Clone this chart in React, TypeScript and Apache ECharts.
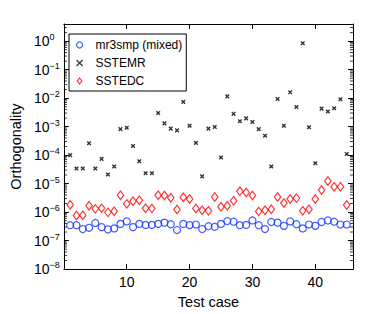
import React, { useEffect, useRef } from 'react';
import * as echarts from 'echarts';

const testCases = [1, 2, 3, 4, 5, 6, 7, 8, 9, 10, 11, 12, 13, 14, 15, 16, 17, 18, 19, 20, 21, 22, 23, 24, 25, 26, 27, 28, 29, 30, 31, 32, 33, 34, 35, 36, 37, 38, 39, 40, 41, 42, 43, 44, 45];

const mr3smpMixed = [3.47e-7, 3.47e-7, 2.54e-7, 2.82e-7, 4.16e-7, 2.97e-7, 2.48e-7, 2.68e-7, 3.85e-7, 4.73e-7, 2.97e-7, 3.85e-7, 3.56e-7, 3.56e-7, 3.85e-7, 4.27e-7, 3.75e-7, 2.35e-7, 3.85e-7, 3.5e-7, 3.66e-7, 2.54e-7, 3.2e-7, 3.05e-7, 3.85e-7, 4.85e-7, 4.6e-7, 3.47e-7, 3.56e-7, 5.1e-7, 3.47e-7, 2.54e-7, 4.5e-7, 4.27e-7, 3.3e-7, 4.73e-7, 3.75e-7, 2.68e-7, 3.66e-7, 3.3e-7, 4.5e-7, 5.1e-7, 4.6e-7, 3.66e-7, 3.66e-7];

const sstemr = [1.0e-4, 3.4e-5, 3.4e-5, 2.6e-4, 3.4e-5, 7.4e-5, 2.1e-5, 4.0e-5, 8.2e-4, 9.1e-4, 2.1e-4, 6.1e-5, 2.3e-5, 2.3e-5, 3.0e-3, 1.3e-3, 8.5e-4, 7.4e-4, 7.4e-3, 1.07e-3, 2.7e-4, 1.8e-5, 8.5e-4, 9.7e-4, 8.3e-5, 1.15e-2, 2.8e-3, 1.55e-3, 1.95e-3, 1.45e-3, 8.2e-4, 4.8e-4, 4.0e-5, 9.3e-3, 1.07e-3, 1.6e-2, 4.9e-3, 0.84, 9.5e-4, 5.2e-5, 4.3e-3, 3.4e-3, 4.4e-3, 9.1e-3, 1.1e-4];

const sstedc = [1.8e-6, 7.6e-7, 7.7e-7, 1.66e-6, 1.3e-6, 1.37e-6, 9.8e-7, 1.08e-6, 3.9e-6, 1.95e-6, 2.4e-6, 2.6e-6, 1.37e-6, 1.35e-6, 3.9e-6, 3.8e-6, 3.2e-6, 1.23e-6, 3.3e-6, 2.9e-6, 1.33e-6, 1.17e-6, 1.11e-6, 3.4e-6, 1.55e-6, 1.68e-6, 2.5e-6, 5.4e-6, 4.9e-6, 3.8e-6, 1.06e-6, 1.17e-6, 1.26e-6, 3.4e-6, 2.1e-6, 2.9e-6, 3.1e-6, 1.11e-6, 1.26e-6, 2.9e-6, 6.0e-6, 1.24e-5, 7.7e-6, 7.7e-6, 1.77e-6];

const referenceLevel = 6e-8;
const xTickLabels = [10, 20, 30, 40];
const yDecades = [-8, -7, -6, -5, -4, -3, -2, -1, 0];
const seriesNames = ['mr3smp (mixed)', 'SSTEMR', 'SSTEDC'];

const X_MIN = 0;
const X_MAX = 46;
const Y_MIN = 1e-8;
const Y_MAX = 4;

const FONT = "'Liberation Sans', Arial, Helvetica, sans-serif";

export default function App() {
  const ref = useRef<HTMLDivElement>(null);

  useEffect(() => {
    const chart = echarts.init(ref.current as HTMLDivElement, null, { renderer: 'svg' });

    const minorTicks: number[][] = [];
    yDecades.forEach((d) => {
      for (let k = 2; k <= 9; k++) {
        const v = k * Math.pow(10, d);
        if (v < Y_MAX) minorTicks.push([X_MIN, v]);
      }
    });

    const yLabel = (v: number) => {
      const e = Math.log10(v);
      const r = Math.round(e);
      if (Math.abs(e - r) > 1e-6) return '';
      const exp = r < 0 ? '\u2212' + String(-r) : String(r);
      return '{b|10}{s|' + exp + '}';
    };

    const axisLineStyle = { color: '#000', width: 1 };

    const option: any = {
      animation: false,
      backgroundColor: '#fff',
      textStyle: { fontFamily: FONT, color: '#000' },
      grid: { left: 51, right: 37, top: 24, bottom: 35, containLabel: false },
      legend: {
        data: seriesNames,
        orient: 'vertical',
        left: 69,
        top: 34,
        itemWidth: 22,
        itemHeight: 6,
        itemGap: 4,
        padding: [4, 4, 3, 7],
        borderColor: '#000',
        borderWidth: 1,
        borderRadius: 0,
        backgroundColor: '#fff',
        itemStyle: { borderWidth: 1.2 },
        textStyle: { fontSize: 12, lineHeight: 14, color: '#000', fontFamily: FONT },
      },
      xAxis: [
        {
          type: 'value',
          position: 'bottom',
          min: X_MIN,
          max: X_MAX,
          interval: 10,
          name: 'Test case',
          nameLocation: 'middle',
          nameGap: 18,
          nameTextStyle: { fontSize: 14.5, color: '#000', fontFamily: FONT },
          axisLine: { show: true, onZero: false, lineStyle: axisLineStyle },
          axisTick: { show: true, inside: true, length: 5, lineStyle: axisLineStyle },
          axisLabel: {
            show: true,
            margin: 6,
            fontSize: 14,
            color: '#000',
            fontFamily: FONT,
            formatter: (v: number) => (xTickLabels.indexOf(v) >= 0 ? String(v) : ''),
          },
          splitLine: { show: false },
        },
        {
          type: 'value',
          position: 'top',
          min: X_MIN,
          max: X_MAX,
          interval: 10,
          axisLine: { show: true, onZero: false, lineStyle: axisLineStyle },
          axisTick: { show: true, inside: true, length: 5, lineStyle: axisLineStyle },
          axisLabel: { show: false },
          splitLine: { show: false },
        },
      ],
      yAxis: [
        {
          type: 'log',
          logBase: 10,
          position: 'left',
          min: Y_MIN,
          max: Y_MAX,
          name: 'Orthogonality',
          nameLocation: 'middle',
          nameGap: 36,
          nameTextStyle: { fontSize: 14.5, color: '#000', fontFamily: FONT },
          axisLine: { show: true, onZero: false, lineStyle: axisLineStyle },
          axisTick: { show: true, inside: true, length: 5, lineStyle: axisLineStyle },
          axisLabel: {
            show: true,
            margin: 30,
            align: 'left',
            color: '#000',
            fontFamily: FONT,
            fontSize: 14,
            formatter: yLabel,
            rich: {
              b: { fontSize: 14, lineHeight: 17, color: '#000', fontFamily: FONT },
              s: { fontSize: 9, verticalAlign: 'top', color: '#000', fontFamily: FONT },
            },
          },
          splitLine: { show: false },
        },
        {
          type: 'log',
          logBase: 10,
          position: 'right',
          min: Y_MIN,
          max: Y_MAX,
          axisLine: { show: true, onZero: false, lineStyle: axisLineStyle },
          axisTick: { show: true, inside: true, length: 5, lineStyle: axisLineStyle },
          axisLabel: { show: false },
          splitLine: { show: false },
        },
      ],
      series: [
        {
          name: 'minor ticks',
          type: 'custom',
          xAxisIndex: 0,
          yAxisIndex: 0,
          silent: true,
          clip: false,
          data: minorTicks,
          renderItem: (params: any, api: any) => {
            const v = api.value(1);
            const l = api.coord([X_MIN, v]);
            const r = api.coord([X_MAX, v]);
            return {
              type: 'group',
              children: [
                { type: 'line', shape: { x1: l[0], y1: l[1], x2: l[0] + 3, y2: l[1] }, style: { stroke: '#000', lineWidth: 0.8 } },
                { type: 'line', shape: { x1: r[0] - 3, y1: r[1], x2: r[0], y2: r[1] }, style: { stroke: '#000', lineWidth: 0.8 } },
              ],
            };
          },
        },
        {
          name: seriesNames[0],
          type: 'scatter',
          symbol: 'circle',
          symbolSize: 7,
          itemStyle: { color: 'transparent', borderColor: '#1535ff', borderWidth: 1.2 },
          data: testCases.map((c, i) => [c, mr3smpMixed[i]]),
          markLine: {
            silent: true,
            symbol: ['none', 'none'],
            label: { show: false },
            lineStyle: { type: [1, 2], color: '#000', width: 1 },
            data: [{ yAxis: referenceLevel }],
          },
          z: 3,
        },
        {
          name: seriesNames[1],
          type: 'scatter',
          symbol: 'path://M0,0L10,10M10,0L0,10',
          symbolSize: 3.6,
          itemStyle: { color: 'transparent', borderColor: '#000', borderWidth: 1.4 },
          data: testCases.map((c, i) => [c, sstemr[i]]),
          z: 3,
        },
        {
          name: seriesNames[2],
          type: 'scatter',
          symbol: 'path://M3,0L6,4L3,8L0,4Z',
          symbolSize: [6.5, 8.5],
          itemStyle: { color: 'transparent', borderColor: '#ff0000', borderWidth: 1.2 },
          data: testCases.map((c, i) => [c, sstedc[i]]),
          z: 3,
        },
      ],
    };

    chart.setOption(option);
    return () => chart.dispose();
  }, []);

  return (
    <div
      ref={ref}
      style={{ position: 'absolute', left: 0, top: 0, width: 390, height: 314, background: '#fff' }}
    />
  );
}
